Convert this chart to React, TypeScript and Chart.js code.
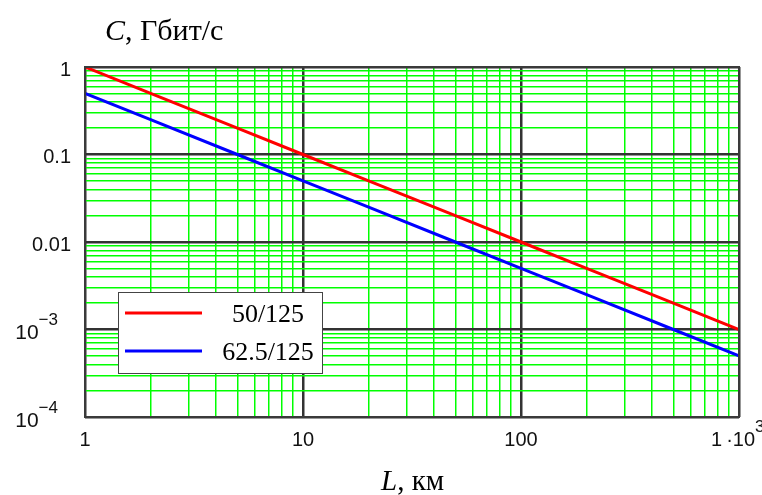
import React, { useEffect, useRef } from "react";
import { Chart, registerables } from "chart.js";

Chart.register(...registerables);

// Data
const distanceKm = [1, 2, 5, 10, 20, 50, 100, 200, 500, 1000];
const capacity50 = [1, 0.5, 0.2, 0.1, 0.05, 0.02, 0.01, 0.005, 0.002, 0.001];
const capacity625 = [0.5, 0.25, 0.1, 0.05, 0.025, 0.01, 0.005, 0.0025, 0.001, 0.0005];
const seriesNames = ["50/125", "62.5/125"];

const xTickValues = [1, 10, 100, 1000];
const xTickBase = ["1", "10", "100", "1\u2009·10"];
const xTickSup = ["", "", "", "3"];
const yTickValues = [1, 0.1, 0.01, 0.001, 0.0001];
const yTickBase = ["1", "0.1", "0.01", "10", "10"];
const yTickSup = ["", "", "", "−3", "−4"];

const yTitleItalic = "C";
const yTitleRest = ", Гбит/с";
const xTitleItalic = "L";
const xTitleRest = ", км";

const decadeGrid = (lo: number, hi: number) => {
  const out: number[] = [];
  for (let d = lo; d < hi; d *= 10) {
    for (let m = 1; m < 10; m++) out.push(+(m * d).toPrecision(6));
  }
  out.push(hi);
  return out;
};
const isDecade = (v: number) => Math.abs(Math.log10(v) - Math.round(Math.log10(v))) < 1e-9;

const SERIF = "'Liberation Serif', 'Times New Roman', serif";
const SANS = "'Liberation Sans', Arial, sans-serif";

export default function App() {
  const ref = useRef<HTMLCanvasElement | null>(null);

  useEffect(() => {
    if (!ref.current) return;

    const overlay = {
      id: "overlay",
      afterDraw(chart: any) {
        const ctx = chart.ctx as CanvasRenderingContext2D;
        const { left, right, top, bottom } = chart.chartArea;
        const xs = chart.scales.x;
        const ys = chart.scales.y;
        ctx.save();
        // frame
        ctx.strokeStyle = "#3a3a3a";
        ctx.lineWidth = 2;
        ctx.strokeRect(left, top, right - left, bottom - top);

        // y tick labels
        ctx.fillStyle = "#111";
        ctx.textBaseline = "middle";
        yTickValues.forEach((v, i) => {
          const y = ys.getPixelForValue(v);
          const base = yTickBase[i];
          const sup = yTickSup[i];
          if (!sup) {
            ctx.font = `20px ${SANS}`;
            ctx.textAlign = "right";
            ctx.fillText(base, left - 14, y + 3);
          } else {
            ctx.font = `17px ${SANS}`;
            const sw = ctx.measureText(sup).width;
            ctx.textAlign = "right";
            ctx.fillText(sup, left - 27, y - 9);
            ctx.font = `21px ${SANS}`;
            ctx.fillText(base, left - 27 - sw, y + 4);
          }
        });

        // x tick labels
        xTickValues.forEach((v, i) => {
          const x = xs.getPixelForValue(v);
          const base = xTickBase[i];
          const sup = xTickSup[i];
          ctx.font = `20px ${SANS}`;
          const bw = ctx.measureText(base).width;
          const start = sup ? x - 28 : x - bw / 2;
          ctx.textAlign = "left";
          ctx.fillText(base, start, bottom + 23);
          if (sup) {
            ctx.font = `17px ${SANS}`;
            ctx.fillText(sup, start + bw, bottom + 10);
          }
        });

        // axis titles
        ctx.textBaseline = "alphabetic";
        ctx.textAlign = "left";
        ctx.fillStyle = "#000";
        ctx.font = `italic 30px ${SERIF}`;
        ctx.fillText(yTitleItalic, 105, 40);
        let w = ctx.measureText(yTitleItalic).width;
        ctx.font = `30px ${SERIF}`;
        ctx.fillText(yTitleRest, 105 + w, 40);

        ctx.font = `italic 29px ${SERIF}`;
        ctx.fillText(xTitleItalic, 381, 490);
        w = ctx.measureText(xTitleItalic).width;
        ctx.font = `29px ${SERIF}`;
        ctx.fillText(xTitleRest, 381 + w, 490);

        // legend
        const lx = 118, ly = 292, lw = 204, lh = 81;
        ctx.fillStyle = "#fff";
        ctx.fillRect(lx, ly, lw, lh);
        ctx.strokeStyle = "#444";
        ctx.lineWidth = 1;
        ctx.strokeRect(lx + 0.5, ly + 0.5, lw, lh);
        const colors = ["#ff0000", "#0000ff"];
        const rows = [313, 351];
        ctx.font = `26px ${SERIF}`;
        ctx.textAlign = "center";
        ctx.textBaseline = "alphabetic";
        seriesNames.forEach((name, i) => {
          ctx.strokeStyle = colors[i];
          ctx.lineWidth = 3;
          ctx.beginPath();
          ctx.moveTo(125, rows[i]);
          ctx.lineTo(202, rows[i]);
          ctx.stroke();
          ctx.fillStyle = "#000";
          ctx.fillText(name, 268, rows[i] + 9);
        });
        ctx.restore();
      },
    };

    const gridOpts = {
      display: true,
      drawTicks: false,
      color: (c: any) => (c.tick && isDecade(c.tick.value) ? "#333333" : "#00ff00"),
      lineWidth: (c: any) => (c.tick && isDecade(c.tick.value) ? 2.5 : 1.5),
    };

    const chart = new Chart(ref.current, {
      type: "line",
      data: {
        datasets: [
          {
            label: seriesNames[0],
            data: distanceKm.map((x, i) => ({ x, y: capacity50[i] })),
            borderColor: "#ff0000",
            borderWidth: 3,
            pointRadius: 0,
            tension: 0,
          },
          {
            label: seriesNames[1],
            data: distanceKm.map((x, i) => ({ x, y: capacity625[i] })),
            borderColor: "#0000ff",
            borderWidth: 3,
            pointRadius: 0,
            tension: 0,
          },
        ],
      },
      options: {
        animation: false,
        responsive: false,
        devicePixelRatio: 1,
        layout: { padding: { left: 85, top: 67, right: 23, bottom: 78 } },
        plugins: { legend: { display: false }, tooltip: { enabled: false }, title: { display: false } },
        scales: {
          x: {
            type: "logarithmic",
            min: 1,
            max: 1000,
            grid: gridOpts as any,
            border: { display: false },
            ticks: { display: false, autoSkip: false },
            afterBuildTicks: (s: any) => {
              s.ticks = decadeGrid(1, 1000).map((value) => ({ value }));
            },
          },
          y: {
            type: "logarithmic",
            min: 0.0001,
            max: 1,
            grid: gridOpts as any,
            border: { display: false },
            ticks: { display: false, autoSkip: false },
            afterBuildTicks: (s: any) => {
              s.ticks = decadeGrid(0.0001, 1).map((value) => ({ value }));
            },
          },
        },
      },
      plugins: [overlay],
    });
    return () => chart.destroy();
  }, []);

  return (
    <div style={{ position: "fixed", left: 0, top: 0, width: 762, height: 495, background: "#fff" }}>
      <canvas ref={ref} width={762} height={495} style={{ width: 762, height: 495, display: "block" }} />
    </div>
  );
}
